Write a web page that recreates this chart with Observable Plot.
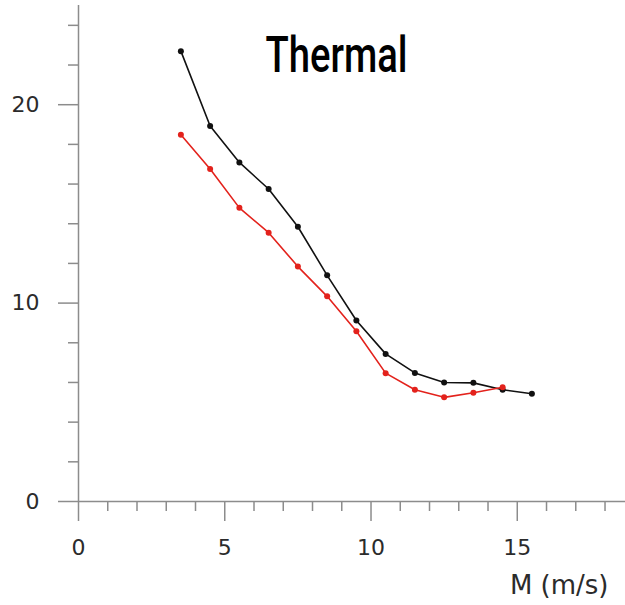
<!DOCTYPE html>
<html>
<head>
<meta charset="utf-8">
<script src="https://cdn.jsdelivr.net/npm/d3@7"></script>
<script src="https://cdn.jsdelivr.net/npm/@observablehq/plot@0.6"></script>
<style>
  html, body { margin: 0; padding: 0; background: #fff; }
</style>
</head>
<body>
<div id="chart"></div>
<script>
const windSpeed = [3.5, 4.5, 5.5, 6.5, 7.5, 8.5, 9.5, 10.5, 11.5, 12.5, 13.5, 14.5, 15.5];
const thermalBlack = [22.7, 18.93, 17.09, 15.75, 13.85, 11.4, 9.12, 7.44, 6.48, 6.0, 5.98, 5.63, 5.43];
const thermalRed = [18.49, 16.76, 14.8, 13.55, 11.84, 10.34, 8.58, 6.47, 5.63, 5.25, 5.48, 5.76];

const xMajor = [0, 5, 10, 15];
const xMinor = [1, 2, 3, 4, 6, 7, 8, 9, 11, 12, 13, 14, 16, 17, 18];
const yMajor = [0, 10, 20];
const yMinor = [2, 4, 6, 8, 12, 14, 16, 18, 22, 24];
const titleText = "Thermal";
const xLabel = "M (m/s)";

const black = windSpeed.map((x, i) => ({x, y: thermalBlack[i]}));
const red = thermalRed.map((y, i) => ({x: windSpeed[i], y}));

const axisColor = "#8c8c8c";
const labelColor = "#2b2b2b";

const plot = Plot.plot({
  width: 625,
  height: 605,
  marginLeft: 78,
  marginRight: 0,
  marginTop: 5,
  marginBottom: 104,
  style: {fontFamily: "DejaVu Sans", background: "#fff"},
  x: {domain: [0, 18.7], axis: null},
  y: {domain: [0, 25], axis: null},
  marks: [
    Plot.axisY({ticks: yMinor, tickSize: 10, text: null, stroke: axisColor, strokeWidth: 1.5, label: null}),
    Plot.axisY({ticks: yMajor, tickSize: 20, tickPadding: 19, fontSize: 22, color: labelColor, stroke: axisColor, strokeWidth: 1.5, label: null, tickFormat: d => String(d)}),
    Plot.axisX({ticks: xMinor, tickSize: 10, text: null, stroke: axisColor, strokeWidth: 1.5, label: null}),
    Plot.axisX({ticks: xMajor, tickSize: 20, tickPadding: 18, fontSize: 22, color: labelColor, stroke: axisColor, strokeWidth: 1.5, label: null, tickFormat: d => String(d)}),
    Plot.ruleX([0], {stroke: axisColor, strokeWidth: 1.5}),
    Plot.ruleY([0], {stroke: axisColor, strokeWidth: 1.5}),
    Plot.line(black, {x: "x", y: "y", stroke: "#111", strokeWidth: 1.6}),
    Plot.dot(black, {x: "x", y: "y", r: 3, fill: "#111", stroke: "none"}),
    Plot.line(red, {x: "x", y: "y", stroke: "#e3221c", strokeWidth: 1.6}),
    Plot.dot(red, {x: "x", y: "y", r: 3, fill: "#e3221c", stroke: "none"}),
    Plot.text([titleText], {frameAnchor: "top-left", dx: 258, dy: 50, text: d => d, textAnchor: "middle", lineAnchor: "middle", fontSize: 50, fontWeight: 500, fill: "#000", fontFamily: "Roboto"}),
    Plot.text([xLabel], {frameAnchor: "bottom-right", dx: -17, dy: 84, text: d => d, textAnchor: "end", lineAnchor: "middle", fontSize: 26, fill: labelColor})
  ]
});

d3.select(plot).selectAll("text").filter(function() { return this.textContent === titleText; })
  .attr("textLength", 142).attr("lengthAdjust", "spacingAndGlyphs");

document.getElementById("chart").appendChild(plot);
</script>
</body>
</html>
